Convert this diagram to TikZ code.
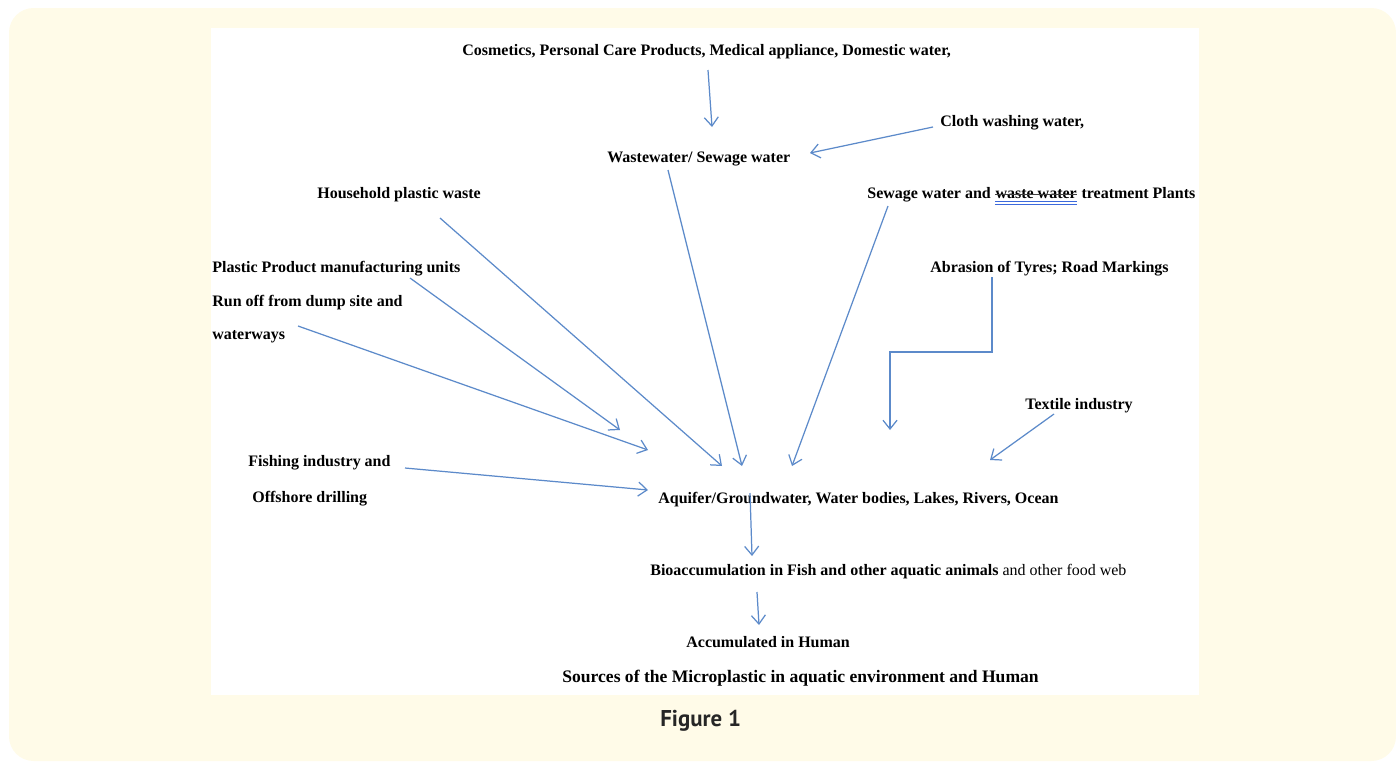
\documentclass[tikz,border=0pt]{standalone}
\usepackage{fontspec}
\setmainfont{Liberation Serif}
\newfontfamily\legende{PT Sans}
\usetikzlibrary{arrows.meta,positioning}
\begin{document}
\begin{tikzpicture}[x=0.02cm,y=-0.02cm,
txt/.style={anchor=west,inner sep=0pt,yshift=-1.2pt,font=\fontsize{9.1}{11}\selectfont\bfseries},
suite/.style={txt,anchor=base west,yshift=1.2pt},
fleche/.style={-{Straight Barb[length=5pt,width=8pt]},line width=0.7pt,bleu}]
\definecolor{bleu}{RGB}{92,138,202}
\definecolor{creme}{RGB}{255,251,232}
\definecolor{souligne}{RGB}{60,105,220}
\useasboundingbox (0,0) rectangle (1396,761);
\fill[creme,rounded corners=14pt] (9,8) rectangle (1396,761);
\fill[white] (211,28) rectangle (1199,695);
\node[txt] (cosm) at (462,50) {Cosmetics, Personal Care Products, Medical appliance, Domestic water,};
\node[txt] (cloth) at (940,121) {Cloth washing water,};
\node[txt] (wastew) at (607,157) {Wastewater/ Sewage water};
\node[txt] (house) at (317,193) {Household plastic waste};
\node[txt] (sew1) at (867,193) {Sewage water and};
\node[suite] (sew2) at ([xshift=2.3pt]sew1.base east) {waste water};
\node[suite] (sew3) at ([xshift=2.3pt]sew2.base east) {treatment Plants};
\node[txt] (plastic) at (212,267) {Plastic Product manufacturing units};
\node[txt] (runoff) at (212,300) {Run off from dump site and};
\node[txt] (waterways) at (212,335) {waterways};
\node[txt] (abrasion) at (930,267) {Abrasion of Tyres; Road Markings};
\node[txt] (textile) at (1025,404) {Textile industry};
\node[txt] (fishing) at (248,461) {Fishing industry and};
\node[txt] (offshore) at (252,497) {Offshore drilling};
\node[txt] (aquifer) at (658,497) {Aquifer/Groundwater, Water bodies, Lakes, Rivers, Ocean};
\node[txt] (bio) at (650,569) {Bioaccumulation in Fish and other aquatic animals\mdseries{} and other food web};
\node[txt] (human) at (686,640) {Accumulated in Human};
\node[txt,font=\fontsize{10}{12}\selectfont\bfseries] (titre) at (562,676) {Sources of the Microplastic in aquatic environment and Human};
\node[anchor=west,inner sep=0pt,font=\legende\bfseries\fontsize{13}{15}\selectfont,text=black!85] (figure) at (660,721) {Figure 1};
\draw[black!75,line width=0.45pt] ([yshift=2.3pt]sew2.base west) -- ([yshift=2.3pt]sew2.base east);
\draw[souligne,line width=0.6pt] ([yshift=-1.6pt]sew2.base west) -- ([yshift=-1.6pt]sew2.base east);
\draw[souligne,line width=0.6pt] ([yshift=-3.1pt]sew2.base west) -- ([yshift=-3.1pt]sew2.base east);
\coordinate (cosm-out) at (708,70);
\coordinate (wastew-in) at (712,127);
\coordinate (cloth-out) at (933,127);
\coordinate (wastew-in2) at (810,153);
\coordinate (wastew-out) at (668,170);
\coordinate (house-out) at (440,218);
\coordinate (sew-out) at (888,206);
\coordinate (plastic-out) at (410,278);
\coordinate (waterways-out) at (298,326);
\coordinate (abrasion-out) at (992,277);
\coordinate (textile-out) at (1054,414);
\coordinate (fishing-out) at (405,468);
\coordinate (aq-wastew) at (742,466);
\coordinate (aq-house) at (722,466);
\coordinate (aq-sew) at (792,466);
\coordinate (aq-plastic) at (620,430);
\coordinate (aq-waterways) at (648,450);
\coordinate (aq-abrasion) at (890,430);
\coordinate (aq-textile) at (990,460);
\coordinate (aq-fishing) at (648,490);
\coordinate (aquifer-out) at (750,493);
\coordinate (bio-in) at (752,556);
\coordinate (bio-out) at (757,592);
\coordinate (human-in) at (759,625);
\draw[fleche] (cosm-out) -- (wastew-in);
\draw[fleche] (cloth-out) -- (wastew-in2);
\draw[fleche] (wastew-out) -- (aq-wastew);
\draw[fleche] (house-out) -- (aq-house);
\draw[fleche] (sew-out) -- (aq-sew);
\draw[fleche] (plastic-out) -- (aq-plastic);
\draw[fleche] (waterways-out) -- (aq-waterways);
\draw[fleche] (abrasion-out) -- (992,352) -- (890,352) -- (aq-abrasion);
\draw[fleche] (textile-out) -- (aq-textile);
\draw[fleche] (fishing-out) -- (aq-fishing);
\draw[fleche] (aquifer-out) -- (bio-in);
\draw[fleche] (bio-out) -- (human-in);
\end{tikzpicture}
\end{document}
